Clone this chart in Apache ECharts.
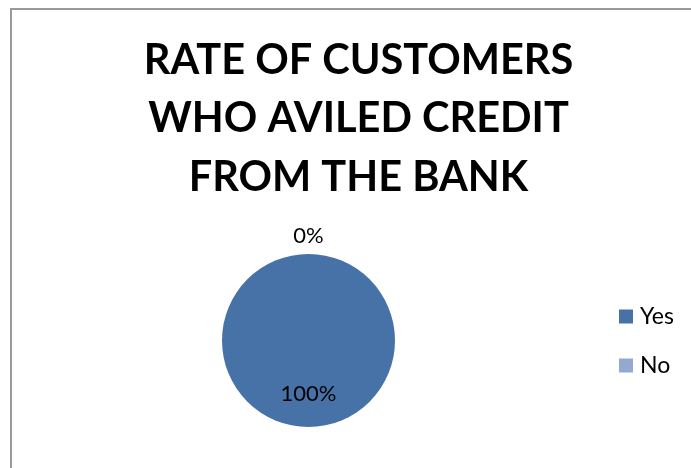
<!DOCTYPE html>
<html>
<head>
<meta charset="utf-8">
<script src="https://cdn.jsdelivr.net/npm/echarts@6/dist/echarts.min.js"></script>
<style>
  html, body { margin: 0; padding: 0; background: #fff; }
  #chart { width: 691px; height: 468px; }
</style>
</head>
<body>
<div id="chart"></div>
<script>
// Share of customers who took credit from the bank
const titleLines = ['RATE OF CUSTOMERS', 'WHO AVILED CREDIT', 'FROM THE BANK'];
const categories = ['Yes', 'No'];
const values = [100, 0];
const sliceColors = ['#4672A8', '#94A9D1'];

const chart = echarts.init(document.getElementById('chart'));
const font = 'Lato, "Open Sans", sans-serif';

chart.setOption({
  animation: false,
  color: sliceColors,
  title: {
    text: titleLines.join('\n'),
    left: 358.5,
    top: 31,
    padding: 0,
    textAlign: 'center',
    textStyle: {
      fontFamily: font,
      fontWeight: 'bold',
      fontSize: 41.5,
      lineHeight: 58.5,
      color: '#000'
    }
  },
  legend: {
    orient: 'vertical',
    left: 614,
    top: 300,
    itemWidth: 14,
    itemHeight: 14,
    itemGap: 26,
    icon: 'rect',
    textStyle: { fontFamily: font, fontSize: 23, color: '#000', padding: [0, 0, 0, 2] },
    data: categories
  },
  graphic: [{
    type: 'rect',
    shape: { x: 11, y: 9, width: 720, height: 520 },
    style: { fill: 'none', stroke: '#9a9a9a', lineWidth: 2 },
    silent: true
  }],
  series: [{
    type: 'pie',
    center: [308.5, 340.5],
    radius: 86.5,
    startAngle: 90,
    clockwise: true,
    avoidLabelOverlap: false,
    stillShowZeroSum: true,
    label: {
      fontFamily: font,
      fontSize: 22,
      color: '#000',
      formatter: '{d}%'
    },
    labelLine: { show: false },
    data: categories.map((name, i) => ({
      name: name,
      value: values[i],
      label: i === 0
        ? { position: 'inside', offset: [0, 7] }
        : { position: 'inside', offset: [0, -58] }
    }))
  }]
});
</script>
</body>
</html>
